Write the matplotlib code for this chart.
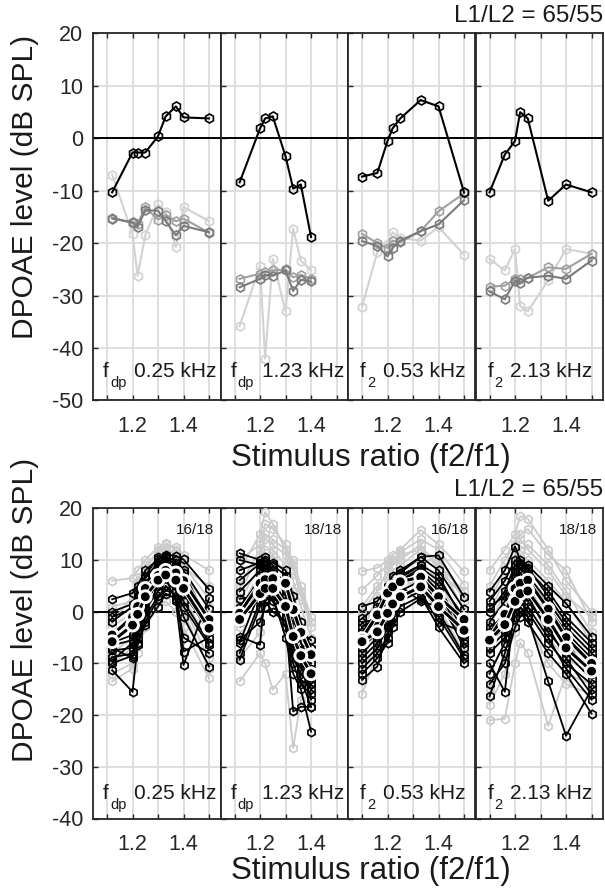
import matplotlib
matplotlib.use("Agg")
import matplotlib.pyplot as plt
import matplotlib.patheffects as pe
from matplotlib.transforms import offset_copy

plt.rcParams['font.family'] = ['Liberation Sans', 'DejaVu Sans']

# ---------------- data ----------------
X1 = [1.12, 1.20, 1.22, 1.25, 1.30, 1.33, 1.37, 1.40, 1.50]
X2 = [1.12, 1.20, 1.22, 1.25, 1.30, 1.33, 1.36, 1.40]
X3 = [1.10, 1.16, 1.20, 1.22, 1.25, 1.33, 1.40, 1.50]
X4 = [1.10, 1.16, 1.20, 1.22, 1.25, 1.33, 1.40, 1.50]

panel_names = ["0.25 kHz", "1.23 kHz", "0.53 kHz", "2.13 kHz"]
panel_subs = ["dp", "dp", "2", "2"]
sig_counts = ["16/18", "18/18", "16/18", "18/18"]
level_label = "L1/L2 = 65/55"

# top row: single ear example
T1_black = [-10.3, -2.7, -2.7, -2.7, 0.4, 4.2, 6.1, 4.0, 3.8]
T1_light = [-6.9, -18.3, -26.2, -18.5, -12.6, -14.1, -20.8, -13.1, -15.8]
T1_mid = [-15.1, -16.2, -16.4, -13.1, -15.5, -14.6, -15.8, -15.3, -18.0]
T1_dark = [-15.3, -16.0, -16.9, -13.7, -13.8, -15.8, -18.5, -16.7, -17.9]

T2_black = [-8.4, 1.9, 3.8, 4.2, -3.4, -9.6, -8.8, -18.8]
T2_light = [-35.8, -24.3, -42.0, -23.0, -33.0, -17.2, -23.3, -25.2]
T2_mid = [-26.8, -25.8, -25.5, -25.2, -25.0, -26.5, -26.0, -26.8]
T2_dark = [-28.4, -26.8, -26.0, -26.2, -25.2, -29.1, -27.0, -27.3]

T3_black = [-7.3, -6.6, -0.5, 1.9, 3.8, 7.3, 6.1, -10.3]
T3_light = [-32.1, -21.7, -20.1, -17.9, -19.0, -19.5, -16.9, -22.2]
T3_mid = [-18.2, -20.0, -20.9, -19.5, -19.8, -17.7, -13.9, -10.5]
T3_dark = [-19.6, -20.5, -22.5, -20.9, -19.5, -17.7, -16.4, -11.8]

T4_black = [-10.3, -3.1, -0.5, 5.0, 3.8, -11.9, -8.8, -10.3]
T4_light = [-23.0, -25.2, -21.1, -32.0, -33.0, -27.1, -21.1, -22.0]
T4_mid = [-28.3, -28.1, -26.8, -26.8, -26.6, -24.6, -24.9, -22.0]
T4_dark = [-29.2, -30.7, -27.2, -27.5, -26.6, -26.2, -26.8, -23.3]

# bottom row: all ears
B1_gray = [
    [6.0, 6.5, 8.0, 10.0, 12.5, 13.0, 12.5, 11.0, 8.0],
    [-2.0, 3.0, 6.0, 9.0, 11.5, 13.2, 12.0, 8.5, 5.0],
    [-4.0, -1.0, 2.0, 6.0, 10.0, 12.0, 11.0, 7.0, 1.0],
    [-8.0, -5.0, -2.0, 3.0, 7.0, 9.5, 8.0, 3.0, -6.0],
    [-12.0, -10.0, -5.0, 0.0, 4.0, 7.0, 5.0, 1.0, -9.0],
    [-13.5, -11.0, -8.0, -3.0, 1.0, 2.0, 0.0, -3.0, -12.9],
    [-3.0, 0.0, 4.0, 7.0, 11.0, 12.0, 10.0, 6.0, -1.0],
    [-6.0, -3.0, 1.0, 5.0, 8.0, 10.0, 9.0, 5.0, -4.0],
    [-10.0, -7.0, -6.0, -2.0, 3.0, 5.0, 6.0, 0.0, -11.0],
    [1.0, 2.0, 5.0, 8.0, 12.0, 12.5, 11.0, 9.0, 2.5],
]
B1_black = [
    [2.4, 3.6, 5.0, 8.0, 10.1, 11.0, 10.8, 10.1, 4.3],
    [-1.0, 0.5, 3.0, 6.5, 9.5, 10.5, 9.0, 7.5, -2.0],
    [-1.9, 1.0, 2.0, 5.0, 8.0, 9.5, 8.5, 3.5, -3.5],
    [-5.0, -3.0, 0.0, 3.5, 7.0, 8.0, 6.5, 4.0, -4.0],
    [-6.5, -5.5, -1.5, 2.0, 5.5, 7.5, 5.0, -7.7, -5.0],
    [-8.8, -8.1, -4.0, 0.5, 4.0, 6.5, 2.0, -10.3, 2.6],
    [-11.3, -15.5, -6.5, -2.0, 2.5, 5.0, 3.0, -1.0, -10.6],
    [-7.5, -7.0, -3.0, 1.0, 6.5, 9.0, 7.0, 4.5, -1.5],
    [-4.0, -2.0, 1.5, 4.5, 8.5, 10.0, 8.0, 5.5, -3.0],
    [-9.5, -6.0, -5.0, -1.0, 3.0, 4.0, 5.5, 2.0, -6.0],
    [-6.0, -4.5, -2.0, 3.0, 9.0, 10.5, 10.0, 8.0, 0.5],
    [0.0, 1.5, 4.0, 7.0, 10.5, 10.8, 9.5, 6.0, -1.0],
    [-10.0, -8.5, -6.0, -2.5, 1.0, 3.5, 2.5, -5.0, -8.0],
    [-7.0, -9.0, -3.5, 0.0, 5.0, 7.0, 4.0, 1.0, -6.5],
]
B1_hi = [-4.5, -1.0, 1.0, 4.5, 7.0, 8.0, 7.5, 6.0, -1.5]
B1_lo = [-5.8, -2.6, -0.5, 2.9, 6.1, 7.1, 6.1, 4.5, -3.2]

B2_gray = [
    [8.0, 15.0, 19.3, 17.0, 12.0, 8.0, 4.0, -2.0],
    [10.0, 13.0, 17.0, 16.0, 13.0, 9.0, 3.0, -3.0],
    [5.0, 12.0, 14.0, 13.0, 11.0, 6.0, 1.0, -5.0],
    [2.0, 9.0, 12.0, 12.0, 9.0, 4.0, -2.0, -8.0],
    [-3.0, 6.0, 10.0, 11.0, 7.0, 1.0, -5.0, -10.0],
    [-13.5, -8.0, -10.0, -15.1, -12.0, -26.4, -17.0, -12.0],
    [-6.0, 4.0, 7.0, 8.0, 5.0, -2.0, -8.0, -14.0],
    [0.0, 8.0, 9.0, 10.0, 8.0, 3.0, -3.0, -16.0],
    [-9.0, -4.0, 2.0, 5.0, 2.0, -5.0, -11.0, -15.0],
    [4.0, 11.0, 15.0, 14.0, 12.0, 10.0, 5.0, -1.0],
]
B2_black = [
    [11.3, 10.0, 9.0, 8.0, 5.0, -1.0, -6.0, -10.0],
    [10.0, 9.0, 8.5, 7.0, 4.0, -3.0, -8.0, -12.0],
    [6.1, 9.3, 10.0, 8.0, 3.0, -5.0, -9.0, -14.0],
    [3.9, 8.0, 9.0, 7.5, 6.0, 0.5, -4.0, -5.5],
    [-0.3, 7.0, 8.0, 6.0, 2.0, -4.0, -10.0, -15.0],
    [-4.8, -6.4, 4.0, 5.0, 1.0, -7.0, -13.0, -18.4],
    [-8.0, 2.0, 3.0, 2.0, -3.0, -10.0, -14.0, -16.0],
    [-9.3, 1.0, 6.0, 5.0, -1.0, -19.3, -18.4, -18.4],
    [-2.0, 5.0, 7.0, 3.0, -5.0, -12.0, -15.0, -23.2],
    [1.0, 6.0, 9.0, 9.5, 8.0, 3.0, -2.0, -7.0],
    [-6.0, 4.0, 2.0, 0.0, -2.0, -9.0, -12.0, -14.0],
    [8.0, 9.5, 10.5, 9.0, 7.0, 1.0, -6.0, -11.0],
    [2.5, 3.0, 5.0, 4.0, -1.0, -8.0, -11.0, -13.0],
    [-5.5, -2.0, 1.0, 3.0, 0.0, -6.0, -10.0, -17.0],
]
B2_hi = [-0.3, 5.5, 6.2, 6.4, 5.5, 0.4, -4.0, -8.3]
B2_lo = [-1.5, 3.5, 4.5, 4.5, 1.0, -4.8, -8.5, -12.0]

B3_gray = [
    [7.8, 8.5, 10.0, 11.0, 12.0, 15.8, 13.0, 7.8],
    [4.2, 7.0, 9.0, 10.0, 11.5, 14.0, 12.0, 5.2],
    [1.0, 5.0, 7.0, 9.0, 10.0, 13.0, 8.0, 3.0],
    [-2.0, 2.0, 6.0, 7.0, 9.0, 12.0, 10.0, 0.0],
    [-6.0, 0.0, 4.0, 5.0, 8.0, 10.0, 6.0, -3.0],
    [-9.0, -4.0, 1.0, 3.0, 5.0, 6.0, 3.0, -6.0],
    [-16.0, -8.0, -4.0, 0.0, 2.0, 4.0, 1.0, -8.0],
    [-12.0, -6.0, -2.0, 1.0, 4.0, 8.0, 4.0, -5.0],
    [-4.0, 3.0, 5.0, 6.0, 7.0, 9.0, 11.0, 2.0],
    [0.0, 4.0, 8.0, 9.0, 11.0, 12.0, 9.0, 4.0],
]
B3_black = [
    [1.0, 2.0, 5.0, 7.0, 8.0, 10.6, 10.9, 2.9],
    [-1.3, 1.0, 3.5, 5.0, 7.0, 9.0, 7.0, -2.0],
    [-3.0, -1.0, 2.0, 4.0, 6.0, 8.0, 5.0, -4.0],
    [-5.0, -2.0, 1.0, 3.0, 5.0, 7.5, 4.0, -5.5],
    [-7.0, -4.0, -1.0, 1.0, 4.0, 6.0, 2.0, -6.0],
    [-9.0, -6.0, -2.0, 0.0, 3.0, 5.0, 0.0, -8.4],
    [-13.2, -10.6, -4.0, -2.0, 2.0, 4.0, -2.0, -4.0],
    [-11.0, -8.0, -5.0, -1.0, 1.0, 3.0, -3.0, -10.0],
    [-4.0, 0.0, 2.5, 5.0, 7.5, 10.6, 8.0, 0.5],
    [-8.0, -5.0, -3.0, 2.0, 6.0, 8.5, 6.0, -1.0],
    [-6.0, -3.0, 0.0, 3.0, 5.0, 2.0, 1.0, -3.0],
    [-10.0, -7.0, -3.0, -1.0, 2.5, 5.5, 3.0, -7.0],
    [-2.0, -1.5, 1.5, 4.5, 6.5, 9.0, 2.0, -4.5],
    [-12.0, -9.0, -6.0, -3.0, 0.0, 2.5, -1.0, -9.0],
]
B3_hi = [-5.2, -0.6, 3.6, 4.8, 5.8, 6.7, 2.9, -1.5]
B3_lo = [-5.8, -3.9, -0.3, 1.5, 2.9, 4.8, 1.0, -3.6]

B4_gray = [
    [8.0, 12.0, 15.0, 18.5, 18.0, 12.0, 6.0, 0.0],
    [5.0, 10.0, 13.0, 15.0, 16.0, 11.0, 8.0, -2.0],
    [2.0, 8.0, 11.0, 12.0, 13.0, 9.0, 4.0, -4.0],
    [-3.0, 4.0, 9.0, 11.0, 10.0, 6.0, 2.0, -6.0],
    [-8.0, 0.0, 6.0, 8.0, 9.0, 3.0, -3.0, -8.0],
    [-21.0, -20.7, -10.0, -6.0, -8.0, -22.1, -12.0, -14.0],
    [-18.0, -12.0, -2.0, 2.0, 4.0, -5.0, -9.0, -12.0],
    [-12.0, -6.0, 3.0, 5.0, 7.0, 1.0, -6.0, -10.0],
    [0.0, 6.0, 10.0, 14.0, 12.0, 8.0, 3.0, -1.0],
    [-15.0, -9.0, -4.0, 0.0, -2.0, -10.0, -14.0, -16.0],
]
B4_black = [
    [3.9, 8.0, 12.6, 10.0, 9.0, 5.0, 1.6, -4.8],
    [2.0, 6.0, 10.0, 9.0, 8.0, 4.0, -1.0, -6.0],
    [0.0, 4.0, 9.0, 8.5, 7.0, 2.0, -3.0, -8.0],
    [-2.0, 2.0, 7.0, 7.5, 6.0, 0.0, -5.0, -10.0],
    [-4.0, 0.0, 6.0, 6.0, 5.0, -2.0, -6.0, -12.0],
    [-6.0, -3.0, 5.0, 4.0, 3.0, -4.0, -8.0, -13.0],
    [-8.0, -5.0, 3.0, 2.0, 0.0, -6.0, -10.0, -14.0],
    [-10.0, -15.5, 2.0, 1.0, -1.0, -13.5, -24.0, -15.0],
    [-16.4, -8.0, -1.0, 0.0, -2.0, -8.0, -12.0, -19.7],
    [-12.0, -6.0, 1.0, 3.0, 2.0, -3.0, -9.0, -16.0],
    [1.0, 3.0, 8.0, 9.5, 8.5, 3.0, -2.0, -7.0],
    [-3.0, -1.0, 4.0, 6.5, 7.0, 1.0, -4.0, -9.0],
    [-14.0, -10.0, -3.0, -1.0, 1.0, -5.0, -11.0, -17.0],
    [-7.0, -4.0, 0.0, 3.0, 4.5, -1.0, -7.0, -11.0],
]
B4_hi = [-5.0, -0.5, 4.5, 5.5, 6.1, 0.5, -5.0, -10.0]
B4_lo = [-5.5, -2.5, 2.0, 3.5, 4.0, -1.5, -7.0, -11.5]

X_ALL = [X1, X2, X3, X4]
TOP = [
    (T1_black, T1_light, T1_mid, T1_dark),
    (T2_black, T2_light, T2_mid, T2_dark),
    (T3_black, T3_light, T3_mid, T3_dark),
    (T4_black, T4_light, T4_mid, T4_dark),
]
BOT = [
    (B1_gray, B1_black, B1_hi, B1_lo),
    (B2_gray, B2_black, B2_hi, B2_lo),
    (B3_gray, B3_black, B3_hi, B3_lo),
    (B4_gray, B4_black, B4_hi, B4_lo),
]

# ---------------- figure ----------------
FW, FH = 605, 889
fig = plt.figure(figsize=(FW / 100, FH / 100), dpi=100)
fig.patch.set_facecolor('white')

LEFT = 93
PW = 127.5
GRID_C = '#dcdcdc'
SPINE_C = '#262626'


def style_axes(ax, ylim, yticks, show_ylabels):
    ax.set_xlim(1.045, 1.545)
    ax.set_ylim(*ylim)
    ax.set_xticks([1.1, 1.2, 1.3, 1.4, 1.5])
    ax.set_xticklabels(['', '1.2', '', '1.4', ''])
    ax.set_yticks(yticks)
    if show_ylabels:
        ax.set_yticklabels([str(v) for v in yticks])
    else:
        ax.set_yticklabels([])
    ax.grid(True, color=GRID_C, lw=1.3, zorder=0)
    ax.set_axisbelow(True)
    ax.tick_params(axis='both', direction='in', length=3.5, width=1.0,
                   color=SPINE_C, labelsize=15.5, top=True, right=False,
                   labelcolor='#262626')
    ax.tick_params(axis='x', pad=11)
    ax.tick_params(axis='y', pad=7)
    for s in ax.spines.values():
        s.set_color(SPINE_C)
        s.set_linewidth(1.3)
    ax.axhline(0, color='black', lw=1.4, zorder=1)


def panel_label(ax, i):
    x0 = (10 if panel_subs[i] == 'dp' else 12) / PW
    tr = ax.transAxes
    y0 = 0.064
    ax.text(x0, y0, 'f', transform=tr, fontsize=15, ha='left', va='baseline',
            color='#1a1a1a', zorder=20)
    sub_tr = offset_copy(tr, fig=fig, x=5, y=-7.5, units='points')
    ax.text(x0, y0, panel_subs[i], transform=sub_tr, fontsize=10.5, ha='left',
            va='baseline', color='#1a1a1a', zorder=20)
    dx = 22.5 if panel_subs[i] == 'dp' else 16.5
    val_tr = offset_copy(tr, fig=fig, x=dx, y=0, units='points')
    ax.text(x0, y0, panel_names[i], transform=val_tr, fontsize=15, ha='left',
            va='baseline', color='#1a1a1a', zorder=20, clip_on=False)


mk = dict(marker='h', mfc='none', ms=6.5, mew=1.2)

# top row
top_y0, top_y1 = 33.5, 400.5
for i in range(4):
    ax = fig.add_axes([(LEFT + i * PW) / FW, 1 - top_y1 / FH, PW / FW,
                       (top_y1 - top_y0) / FH])
    style_axes(ax, (-50, 20), list(range(-50, 21, 10)), i == 0)
    xs = X_ALL[i]
    blk, lgt, mid, drk = TOP[i]
    ax.plot(xs, lgt, color='#d2d2d2', lw=1.5, mec='#d2d2d2', zorder=3, **mk)
    ax.plot(xs, mid, color='#a0a0a0', lw=1.5, mec='#a0a0a0', zorder=4, **mk)
    ax.plot(xs, drk, color='#7a7a7a', lw=1.5, mec='#7a7a7a', zorder=4, **mk)
    ax.plot(xs, blk, color='black', lw=1.5, mec='black', zorder=6, **mk)
    panel_label(ax, i)

# bottom row
bot_y0, bot_y1 = 508.3, 818.5
for i in range(4):
    ax = fig.add_axes([(LEFT + i * PW) / FW, 1 - bot_y1 / FH, PW / FW,
                       (bot_y1 - bot_y0) / FH])
    style_axes(ax, (-40, 20), list(range(-40, 21, 10)), i == 0)
    xs = X_ALL[i]
    gray, black, hi, lo = BOT[i]
    for g in gray:
        ax.plot(xs, g, color='#cbcbcb', lw=1.3, mec='#cbcbcb', zorder=3,
                marker='h', mfc='none', ms=6, mew=1.2)
    for b in black:
        ax.plot(xs, b, color='black', lw=1.3, mec='black', zorder=5,
                marker='h', mfc='none', ms=6, mew=1.2)
    for m in (hi, lo):
        ax.plot(xs, m, color='black', lw=2.2, zorder=8, marker='o', ms=7,
                mfc='black', mec='white', mew=0.6,
                path_effects=[pe.Stroke(linewidth=3.6, foreground='white'),
                              pe.Normal()])
    ax.text(1 - 6 / PW, 1 - 22 / (bot_y1 - bot_y0), sig_counts[i],
            transform=ax.transAxes, ha='right', va='center', fontsize=11,
            color='#1a1a1a', zorder=20)
    panel_label(ax, i)

# figure-level labels
for yc in (458, 871):
    fig.text(371 / FW, 1 - yc / FH, 'Stimulus ratio (f2/f1)', ha='center',
             va='center', fontsize=22.5, color='#1a1a1a')
for yc in (187, 610):
    fig.text(25 / FW, 1 - yc / FH, 'DPOAE level (dB SPL)', ha='center',
             va='center', rotation=90, fontsize=21.5, color='#1a1a1a')
for yc in (16, 490):
    fig.text(603 / FW, 1 - yc / FH, level_label, ha='right', va='center',
             fontsize=17.5, color='#1a1a1a')

fig.savefig('out.png', dpi=100, facecolor='white')
